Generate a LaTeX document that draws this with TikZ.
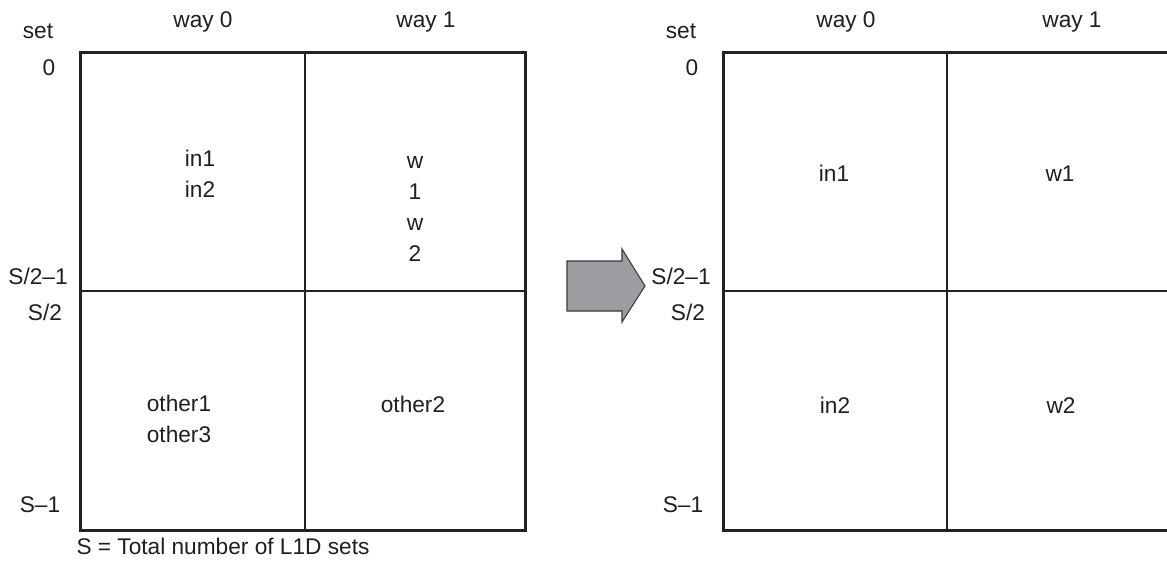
\documentclass[tikz,border=0pt]{standalone}
\usepackage{fontspec}
\setmainfont{Liberation Sans}
\usepackage{xcolor}
\definecolor{framegray}{HTML}{222222}
\definecolor{arrowgray}{HTML}{9C9DA0}
\definecolor{arrowline}{HTML}{3A3A3A}

\begin{document}
\begin{tikzpicture}[x=0.75pt,y=-0.75pt,cap=round,>=latex,
    every node/.style={inner sep=0pt,text=black!88,font=\fontsize{17}{23.25}\selectfont},
    lbl/.style={anchor=base},
    cell/.style={align=center},
    outer/.style={line width=2.25pt,draw=framegray},
    inner/.style={line width=0.9pt,draw=framegray}]
            % fix the page
            \useasboundingbox (0,0) rectangle (1167,561);
            \clip (0,0) rectangle (1167,561);

            % left table: frame and dividers
            \draw[outer] (80,52) rectangle (525,530);
            \draw[inner] (305,52) -- (305,530);
            \draw[inner] (80,291) -- (525,291);

            % left table: column heads
            \node[lbl] (wayzeroL) at (203,27) {way 0};
            \node[lbl] (wayoneL) at (426,27) {way 1};

            % left table: set numbers
            \node[lbl] (setL) at (38,38) {set};
            \node[lbl] (zeroL) at (49,75) {0};
            \node[lbl] (halfprevL) at (38,284) {S/2--1};
            \node[lbl] (halfL) at (45,320) {S/2};
            \node[lbl] (lastL) at (40,512) {S--1};

            % left table: contents
            \node[cell] (inL) at (200,174) {in1\\in2};
            \node[cell] (wL) at (415,209) {w\\1\\w\\2};
            \node[cell] (otherL) at (179,419) {other1\\other3};
            \node[lbl] (othertwoL) at (413,412) {other2};

            % note under the left table
            \node[lbl] (note) at (223,554) {S = Total number of L1D sets};

            % the arrow between the tables
            \filldraw[fill=arrowgray,draw=arrowline,line width=0.8pt,line join=miter]
                (567,261) -- (622,261) -- (622,249) -- (645,286)
                -- (622,322) -- (622,311) -- (567,311) -- cycle;

            % right table: frame and dividers
            \draw[outer] (723,52) rectangle (1169,530);
            \draw[inner] (947,52) -- (947,530);
            \draw[inner] (723,291) -- (1169,291);

            % right table: column heads
            \node[lbl] (wayzeroR) at (846,27) {way 0};
            \node[lbl] (wayoneR) at (1072,27) {way 1};

            % right table: set numbers
            \node[lbl] (setR) at (681,38) {set};
            \node[lbl] (zeroR) at (692,75) {0};
            \node[lbl] (halfprevR) at (681,284) {S/2--1};
            \node[lbl] (halfR) at (688,320) {S/2};
            \node[lbl] (lastR) at (683,512) {S--1};

            % right table: contents
            \node[lbl] (inoneR) at (834,181) {in1};
            \node[lbl] (woneR) at (1060,181) {w1};
            \node[lbl] (intwoR) at (835,413) {in2};
            \node[lbl] (wtwoR) at (1061,413) {w2};
\end{tikzpicture}
\end{document}
